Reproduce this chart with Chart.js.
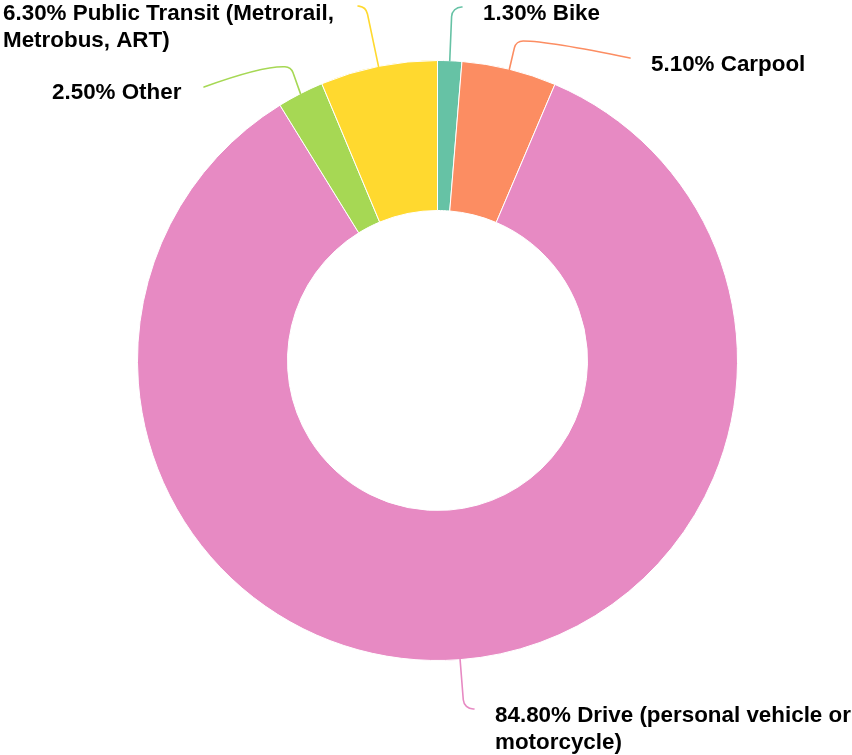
<!DOCTYPE html>
<html>
<head>
<meta charset="utf-8">
<script src="https://cdn.jsdelivr.net/npm/chart.js@4"></script>
<style>
  html, body { margin: 0; padding: 0; background: #fff; }
  canvas { display: block; }
</style>
</head>
<body>
<canvas id="chart" width="852" height="755"></canvas>
<script>
// commute mode shares (percent)
var categories = ['Bike', 'Carpool', 'Drive (personal vehicle or motorcycle)', 'Other', 'Public Transit (Metrorail, Metrobus, ART)'];
var shares = [1.3, 5.1, 84.8, 2.5, 6.3];
var sliceColors = ['#66c2a5', '#fc8d62', '#e78ac3', '#a6d854', '#ffd92f'];

// where each callout bends, ends, and where its text sits
var calloutSpots = [
    { elbow: [452, 7], end: [462, 7], text: [483, 20], wrap: 400 },
    { elbow: [516, 41], ctrl: [548, 41], end: [630, 58], text: [651, 71], wrap: 400 },
    { elbow: [464, 709], end: [474, 709], text: [495, 722], wrap: 360 },
    { elbow: [291, 67], ctrl: [262, 66], end: [204, 87], text: [52, 99], wrap: 400 },
    { elbow: [366, 7], end: [358, 6], text: [3, 20], wrap: 340 }
];

function wrapText(ctx, text, maxWidth) {
    var words = text.split(' ');
    var lines = [];
    var line = '';
    words.forEach(function (w) {
        var test = line ? line + ' ' + w : w;
        if (ctx.measureText(test).width > maxWidth && line) {
            lines.push(line);
            line = w;
        } else {
            line = test;
        }
    });
    if (line) lines.push(line);
    return lines;
}

var calloutPlugin = {
    id: 'callouts',
    afterDraw: function (chart) {
        var ctx = chart.ctx;
        var meta = chart.getDatasetMeta(0);
        ctx.save();
        ctx.font = 'bold 22.4px "Liberation Sans", Arial, sans-serif';
        ctx.textBaseline = 'alphabetic';
        ctx.textAlign = 'left';
        meta.data.forEach(function (arc, i) {
            var p = arc.getProps(['x', 'y', 'startAngle', 'endAngle', 'outerRadius'], true);
            var mid = (p.startAngle + p.endAngle) / 2;
            var sx = p.x + Math.cos(mid) * p.outerRadius;
            var sy = p.y + Math.sin(mid) * p.outerRadius;
            var spot = calloutSpots[i];

            ctx.strokeStyle = sliceColors[i];
            ctx.lineWidth = 1.6;
            ctx.lineCap = 'round';
            ctx.beginPath();
            ctx.moveTo(sx, sy);
            if (spot.ctrl) {
                ctx.arcTo(spot.elbow[0], spot.elbow[1], spot.ctrl[0], spot.ctrl[1], 9);
                ctx.quadraticCurveTo(spot.ctrl[0], spot.ctrl[1], spot.end[0], spot.end[1]);
            } else {
                ctx.arcTo(spot.elbow[0], spot.elbow[1], spot.end[0], spot.end[1], 10);
                ctx.lineTo(spot.end[0], spot.end[1]);
            }
            ctx.stroke();

            var label = shares[i].toFixed(2) + '% ' + categories[i];
            var lines = wrapText(ctx, label, spot.wrap);
            ctx.fillStyle = '#000';
            lines.forEach(function (ln, k) {
                ctx.fillText(ln, spot.text[0], spot.text[1] + k * 27);
            });
        });
        ctx.restore();
    }
};

var modeChart = new Chart(
    document.getElementById('chart'),
    {
        type: 'doughnut',
        data: {
            labels: categories,
            datasets: [{
                data: shares,
                backgroundColor: sliceColors,
                borderColor: '#ffffff',
                borderWidth: 1
            }]
        },
        options: {
            responsive: false,
            animation: false,
            cutout: '50%',
            layout: {
                padding: { left: 137, right: 114, top: 60, bottom: 94 }
            },
            plugins: {
                legend: { display: false },
                tooltip: { enabled: false }
            }
        },
        plugins: [calloutPlugin]
    }
);
</script>
</body>
</html>
